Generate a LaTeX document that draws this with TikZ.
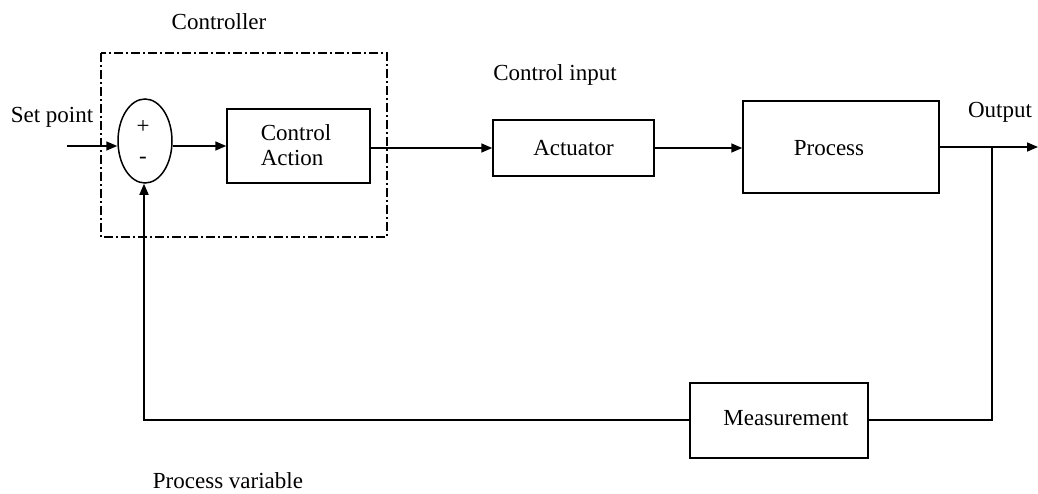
\documentclass[tikz,border=0pt]{standalone}
\usepackage{fontspec}
\setmainfont{Liberation Serif}
\usetikzlibrary{arrows.meta,shapes.geometric}

\tikzset{
  every node/.style={font=\fontsize{23}{26}\selectfont},
  blockbox/.style={draw, line width=1.5pt, minimum width=#1, inner sep=0pt},
  lbl/.style={inner sep=0pt},
  wire/.style={line width=1.6pt},
  flow/.style={wire, -{Triangle[length=11pt,width=9pt]}},
  ctrlframe/.style={line width=1.2pt, dash pattern=on 9pt off 3pt on 2pt off 3pt},
}

\begin{document}
\begin{tikzpicture}[x=1pt,y=-1pt]
  \useasboundingbox (0,0) rectangle (1038,493);

  % controller frame
  \draw[ctrlframe] (101,53) rectangle (387,237);
  \node[lbl] (ctrl) at (219,22) {Controller};

  % summing junction
  \node[draw, line width=1.5pt, ellipse, minimum width=54pt, minimum height=84pt, inner sep=0pt] (sum) at (145,141) {};
  \node[lbl] (plus) at (143,127) {+};
  \node[lbl] (minus) at (143,160) {-};

  % blocks
  \node[blockbox=143pt, minimum height=74pt] (ca) at (298.5,146) {};
  \node[lbl, align=left, font=\fontsize{23}{25}\selectfont] (catext) at (296,145) {Control\\Action};
  \node[blockbox=161pt, minimum height=56pt] (act) at (573.5,148) {Actuator};
  \node[blockbox=196pt, minimum height=92pt] (proc) at (841,147) {};
  \node[lbl] (proctext) at (829,148) {Process};
  \node[blockbox=178pt, minimum height=75pt] (meas) at (779,420.5) {};
  \node[lbl] (meastext) at (786,418) {Measurement};

  % labels
  \node[lbl] (sp) at (52,117) {Set point};
  \node[lbl] (ci) at (555,75) {Control input};
  \node[lbl] (out) at (1000,112) {Output};
  \node[lbl] (pv) at (228,481) {Process variable};

  % points on the wires
  \coordinate (spin) at (67,146);
  \coordinate (outend) at (1038,147);
  \coordinate (tap) at (992,147);
  \coordinate (tapdown) at (992,420);
  \coordinate (retcorner) at (144,420);

  % forward path
  \draw[flow] (spin) -- (spin -| sum.west);
  \draw[flow] (sum.east |- ca.west) -- (ca.west);
  \draw[flow] (ca.east |- act.west) -- (act.west);
  \draw[flow] (act.east) -- (act.east -| proc.west);
  \draw[flow] (proc.east) -- (outend);

  % feedback path
  \draw[wire] (tap) -- (tapdown) -- (meas.east |- tapdown);
  \draw[flow] (meas.west |- retcorner) -- (retcorner) -- (retcorner |- sum.south);
\end{tikzpicture}
\end{document}
